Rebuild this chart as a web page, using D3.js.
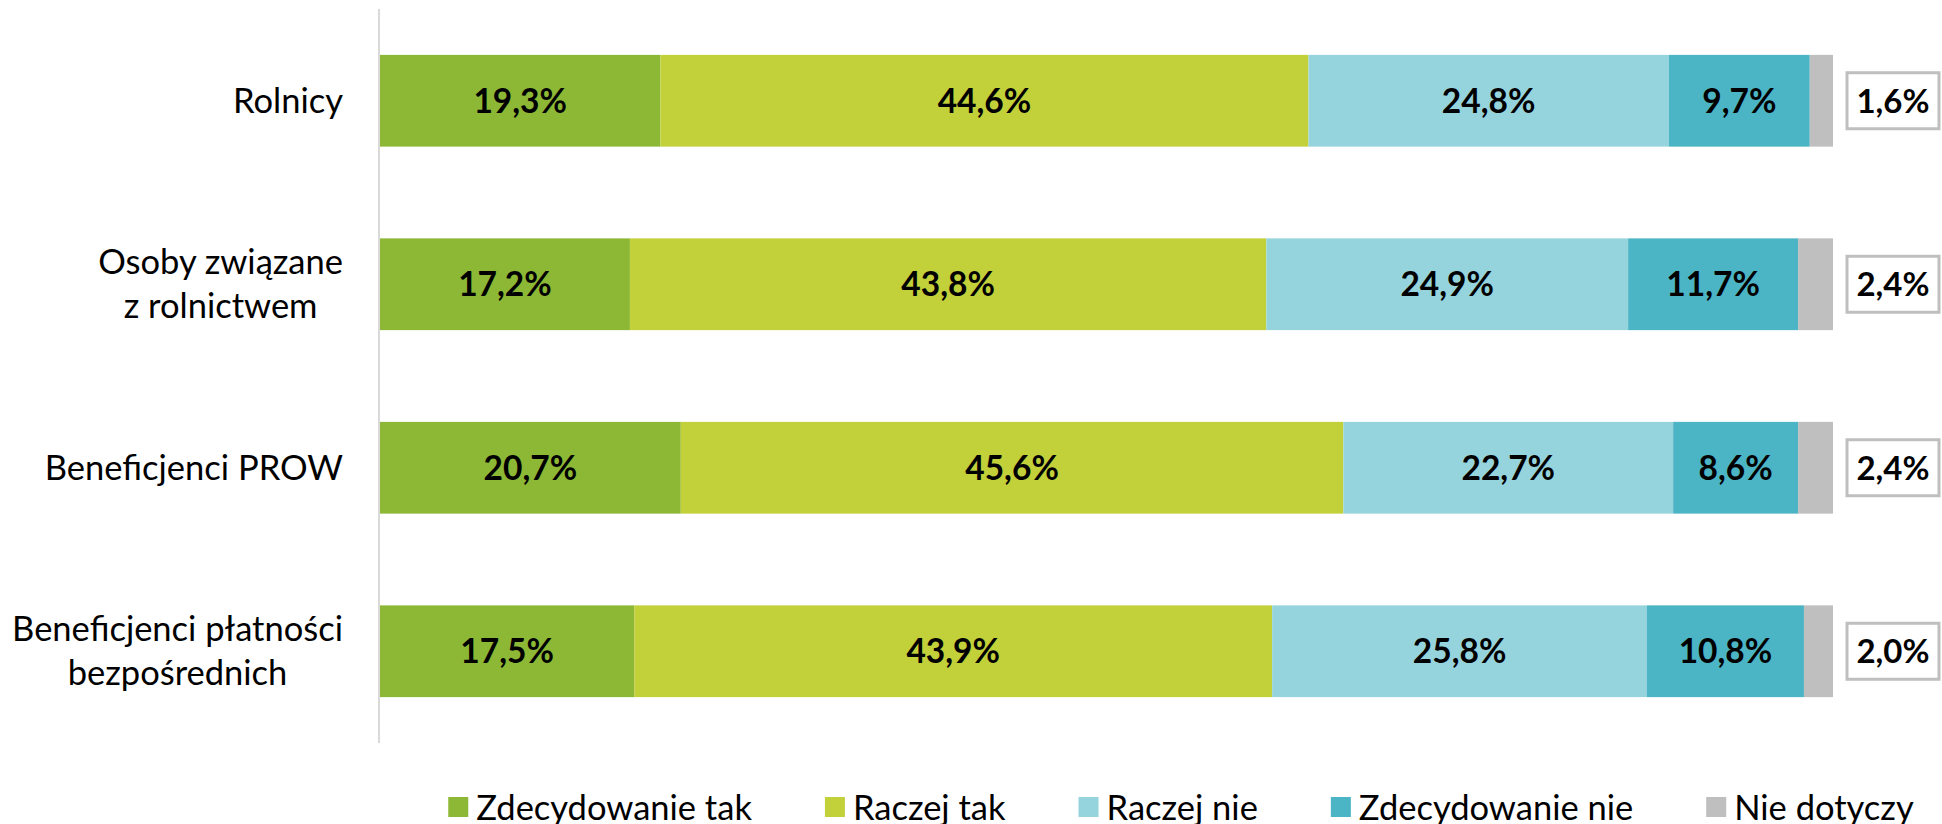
<!DOCTYPE html>
<html>
<head>
<meta charset="utf-8">
<script src="https://cdn.jsdelivr.net/npm/d3@7"></script>
<style>
  body { margin: 0; background: #fff; }
  text { font-family: Lato, "Open Sans", sans-serif; }
</style>
</head>
<body>
<svg id="chart"></svg>
<script>
// data
var categories = ["Rolnicy", "Osoby związane z rolnictwem", "Beneficjenci PROW", "Beneficjenci płatności bezpośrednich"]
var categoryLines = [["Rolnicy"], ["Osoby związane", "z rolnictwem"], ["Beneficjenci PROW"], ["Beneficjenci płatności", "bezpośrednich"]]
var seriesNames = ["Zdecydowanie tak", "Raczej tak", "Raczej nie", "Zdecydowanie nie", "Nie dotyczy"]
var zdecydowanieTak = [19.3, 17.2, 20.7, 17.5]
var raczejTak = [44.6, 43.8, 45.6, 43.9]
var raczejNie = [24.8, 24.9, 22.7, 25.8]
var zdecydowanieNie = [9.7, 11.7, 8.6, 10.8]
var nieDotyczy = [1.6, 2.4, 2.4, 2.0]
var colors = ["#8cb835", "#c2d03a", "#96d4dd", "#4bb4c5", "#bfbfbf"]

var screen = {width: 1942, height: 824}
var plot = {left: 380, right: 1833, top: 9, bottom: 743}

var rows = categories.map(function(c, i) {
    return {
        cat: c,
        "Zdecydowanie tak": zdecydowanieTak[i],
        "Raczej tak": raczejTak[i],
        "Raczej nie": raczejNie[i],
        "Zdecydowanie nie": zdecydowanieNie[i],
        "Nie dotyczy": nieDotyczy[i]
    }
})

var svg = d3.select("#chart")
    .attr("width", screen.width)
    .attr("height", screen.height)

var xScale = d3.scaleLinear()
    .domain([0, 100])
    .range([plot.left, plot.right])
var yScale = d3.scaleBand()
    .domain(categories)
    .range([plot.top, plot.bottom])
    .paddingInner(0.5)
    .paddingOuter(0.25)
var cScale = d3.scaleOrdinal()
    .domain(seriesNames)
    .range(colors)

var fmt = d3.formatLocale({decimal: ",", thousands: " ", grouping: [3], currency: ["", " zł"]}).format(".1f")

var stacked = d3.stack().keys(seriesNames)(rows)

// axis line on the left
svg.append("line")
    .attr("x1", xScale(0) - 1).attr("x2", xScale(0) - 1)
    .attr("y1", plot.top).attr("y2", plot.bottom)
    .attr("stroke", "#d9d9d9")
    .attr("stroke-width", 2)

var layers = svg.append("g").selectAll("g")
    .data(stacked)
    .enter()
    .append("g")
    .attr("fill", function(d) { return cScale(d.key) })

layers.selectAll("rect")
    .data(function(d) { return d })
    .enter()
    .append("rect")
    .attr("x", function(d) { return xScale(d[0]) })
    .attr("y", function(d) { return yScale(d.data.cat) })
    .attr("width", function(d) { return xScale(d[1]) - xScale(d[0]) })
    .attr("height", yScale.bandwidth())

// value labels inside the segments (all but the last series)
stacked.slice(0, 4).forEach(function(layer) {
    svg.append("g").selectAll("text")
        .data(layer)
        .enter()
        .append("text")
        .attr("x", function(d) { return (xScale(d[0]) + xScale(d[1])) / 2 })
        .attr("y", function(d) { return yScale(d.data.cat) + yScale.bandwidth() / 2 + 12 })
        .attr("text-anchor", "middle")
        .attr("font-size", "33.5px")
        .attr("font-weight", "bold")
        .attr("fill", "#000")
        .text(function(d) { return fmt(d[1] - d[0]) + "%" })
})

// boxed labels for "Nie dotyczy"
var boxW = 92, boxH = 56
var boxes = svg.append("g").selectAll("g")
    .data(stacked[4])
    .enter()
    .append("g")
    .attr("transform", function(d) {
        return "translate(" + (xScale(100) + 14) + "," + (yScale(d.data.cat) + yScale.bandwidth() / 2 - boxH / 2) + ")"
    })
boxes.append("rect")
    .attr("width", boxW)
    .attr("height", boxH)
    .attr("fill", "#fff")
    .attr("stroke", "#bfbfbf")
    .attr("stroke-width", 3)
boxes.append("text")
    .attr("x", boxW / 2)
    .attr("y", boxH / 2 + 12)
    .attr("text-anchor", "middle")
    .attr("font-size", "33px")
    .attr("font-weight", "bold")
    .text(function(d) { return fmt(d[1] - d[0]) + "%" })

// category labels, centred block, right aligned
var labelRight = 343
categories.forEach(function(c, i) {
    var lines = categoryLines[i]
    var g = svg.append("g")
    var texts = g.selectAll("text")
        .data(lines)
        .enter()
        .append("text")
        .attr("font-size", "34.5px")
        .attr("fill", "#000")
        .attr("text-anchor", "middle")
        .attr("y", function(d, j) {
            return yScale(c) + yScale.bandwidth() / 2 + 12 + (j - (lines.length - 1) / 2) * 44
        })
        .text(function(d) { return d })
    var maxW = d3.max(texts.nodes(), function(n) { return n.getComputedTextLength() })
    texts.attr("x", labelRight - maxW / 2)
})

// legend
var legend = svg.append("g")
var sq = 20, sqGap = 8, itemGap = 73
var items = legend.selectAll("g")
    .data(seriesNames)
    .enter()
    .append("g")
items.append("rect")
    .attr("width", sq)
    .attr("height", sq)
    .attr("y", 797)
    .attr("fill", function(d) { return cScale(d) })
items.append("text")
    .attr("x", sq + sqGap)
    .attr("y", 820)
    .attr("font-size", "34.5px")
    .attr("fill", "#000")
    .text(function(d) { return d })
var widths = items.select("text").nodes().map(function(n) { return sq + sqGap + n.getComputedTextLength() })
var total = d3.sum(widths) + itemGap * (widths.length - 1)
var pos = 1181 - total / 2
items.attr("transform", function(d, i) {
    var x = pos
    pos += widths[i] + itemGap
    return "translate(" + x + ",0)"
})
</script>
</body>
</html>
